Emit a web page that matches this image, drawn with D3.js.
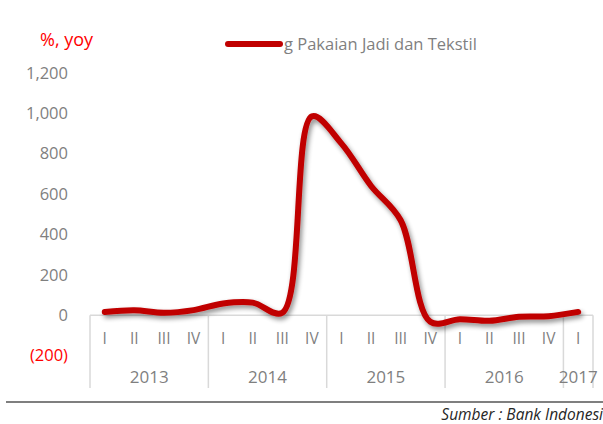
<!DOCTYPE html>
<html lang="en">
<head>
    <meta charset="UTF-8">
    <title>Pakaian Jadi dan Tekstil</title>
    <style>
        body { margin: 0; background: #fff; }
        svg { display: block; font-family: "Open Sans", sans-serif; }
    </style>
</head>
<body>
<svg></svg>
<script src="https://d3js.org/d3.v7.min.js"></script>
<script>
    var years = ["2013", "2014", "2015", "2016", "2017"];
    var quarters = ["I", "II", "III", "IV", "I", "II", "III", "IV", "I", "II", "III", "IV", "I", "II", "III", "IV", "I"];
    var quarterYear = [0, 0, 0, 0, 1, 1, 1, 1, 2, 2, 2, 2, 3, 3, 3, 3, 4];
    var values = [16, 24, 12, 25, 58, 62, 12, 985, 850, 640, 470, -33, -20, -28, -8, -5, 16];
    var yTicks = [-200, 0, 200, 400, 600, 800, 1000, 1200];
    var seriesName = "g Pakaian Jadi dan Tekstil";

    var width = 603, height = 424;
    var svg = d3.select("svg").attr("width", width).attr("height", height);

    var x = d3.scaleBand().domain(d3.range(quarters.length)).range([90, 593]);
    var y = d3.scaleLinear().domain([-200, 1200]).range([355.5, 73]);

    var grey = "#7f7f7f";

    // y tick labels
    svg.selectAll(".ytick").data(yTicks).enter().append("text")
        .attr("x", 68)
        .attr("y", function (d) { return y(d); })
        .attr("dy", "0.35em")
        .attr("text-anchor", "end")
        .attr("font-size", "16.5px")
        .attr("fill", function (d) { return d < 0 ? "#ff0000" : grey; })
        .text(function (d) { return d < 0 ? "(" + d3.format(",")(-d) + ")" : d3.format(",")(d); });

    // unit label
    svg.append("text").attr("x", 40).attr("y", 46)
        .attr("font-size", "18px").attr("fill", "#ff0000").text("%, yoy");

    // category axis
    var y0 = y(0);
    svg.append("line").attr("x1", 90).attr("x2", 593).attr("y1", y0).attr("y2", y0)
        .attr("stroke", "#d9d9d9").attr("stroke-width", 1.5);

    var bounds = [0];
    quarterYear.forEach(function (g, i) {
        if (i > 0 && g !== quarterYear[i - 1]) bounds.push(i);
    });
    bounds.push(quarters.length);

    function edge(i) { return i === quarters.length ? x.range()[1] : x(i); }

    svg.selectAll(".sep").data(bounds).enter().append("line")
        .attr("x1", edge).attr("x2", edge)
        .attr("y1", y0).attr("y2", 388)
        .attr("stroke", "#d9d9d9").attr("stroke-width", 1.5);

    svg.selectAll(".qlab").data(quarters).enter().append("text")
        .attr("x", function (d, i) { return x(i) + x.bandwidth() / 2; })
        .attr("y", 339).attr("dy", "0.35em")
        .attr("text-anchor", "middle").attr("font-size", "15.5px").attr("fill", grey)
        .text(function (d) { return d; });

    svg.selectAll(".ylab").data(years).enter().append("text")
        .attr("x", function (d, i) { return (edge(bounds[i]) + edge(bounds[i + 1])) / 2; })
        .attr("y", 377).attr("dy", "0.35em")
        .attr("text-anchor", "middle").attr("font-size", "17px").attr("fill", grey)
        .text(function (d) { return d; });

    // shadow filter
    var defs = svg.append("defs");
    var f = defs.append("filter").attr("id", "shadow")
        .attr("x", "-10%").attr("y", "-10%").attr("width", "130%").attr("height", "130%");
    f.append("feGaussianBlur").attr("in", "SourceAlpha").attr("stdDeviation", 2.5).attr("result", "b");
    f.append("feOffset").attr("in", "b").attr("dx", 2).attr("dy", 3).attr("result", "o");
    f.append("feComponentTransfer").attr("in", "o").attr("result", "s")
        .append("feFuncA").attr("type", "linear").attr("slope", 0.45);
    var m = f.append("feMerge");
    m.append("feMergeNode").attr("in", "s");
    m.append("feMergeNode").attr("in", "SourceGraphic");

    var line = d3.line()
        .x(function (d, i) { return x(i) + x.bandwidth() / 2; })
        .y(function (d) { return y(d); })
        .curve(d3.curveCatmullRom.alpha(0.5));

    svg.append("path").datum(values)
        .attr("d", line)
        .attr("fill", "none")
        .attr("stroke", "#c00000")
        .attr("stroke-width", 6)
        .attr("stroke-linecap", "round")
        .attr("stroke-linejoin", "round")
        .attr("filter", "url(#shadow)");

    // legend
    svg.append("line").attr("x1", 228).attr("x2", 280).attr("y1", 44).attr("y2", 44)
        .attr("stroke", "#c00000").attr("stroke-width", 6).attr("stroke-linecap", "round");
    svg.append("text").attr("x", 284).attr("y", 44).attr("dy", "0.35em")
        .attr("font-size", "16.5px").attr("fill", grey).text(seriesName);

    // source
    svg.append("line").attr("x1", 6).attr("x2", 603).attr("y1", 402).attr("y2", 402)
        .attr("stroke", "#7f7f7f").attr("stroke-width", 2);
    svg.append("text").attr("x", 603).attr("y", 420)
        .attr("text-anchor", "end").attr("font-size", "15.5px").attr("font-style", "italic")
        .attr("fill", "#262626").text("Sumber : Bank Indonesi");
</script>
</body>
</html>
